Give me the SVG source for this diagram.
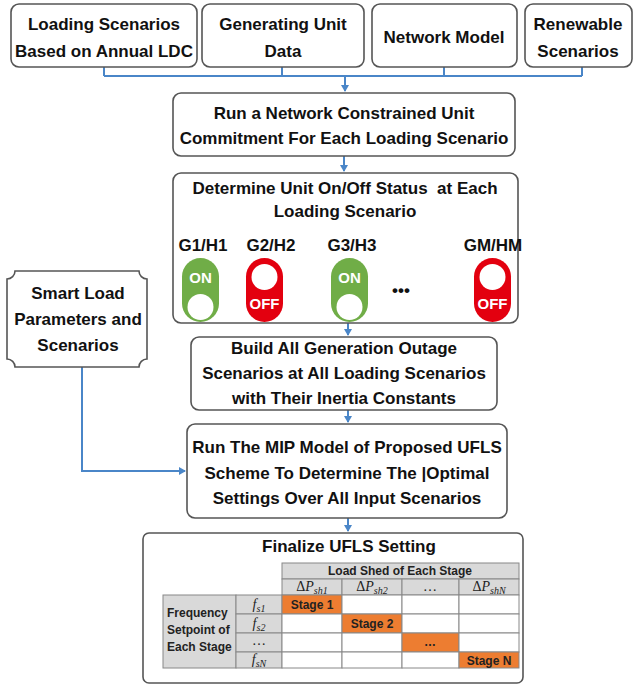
<svg xmlns="http://www.w3.org/2000/svg" width="635" height="689" viewBox="0 0 635 689">
<style>
.box{fill:#fff;stroke:#555;stroke-width:1.6}
.t{font-family:"Liberation Sans",Arial,sans-serif;font-weight:bold;font-size:17px;fill:#111;text-anchor:middle}
.ts{font-family:"Liberation Sans",Arial,sans-serif;font-weight:bold;font-size:12px;fill:#222;text-anchor:middle}
.tl{font-family:"Liberation Sans",Arial,sans-serif;font-weight:bold;font-size:12px;fill:#222;text-anchor:start}
.tw{font-family:"Liberation Sans",Arial,sans-serif;font-weight:bold;font-size:15px;fill:#fff;text-anchor:middle}
.m{font-family:"Liberation Serif","Times New Roman",serif;font-size:14px;fill:#222;text-anchor:middle}
.con{fill:none;stroke:#4A86C8;stroke-width:2}
.g{fill:#D9D9D9;stroke:#888;stroke-width:1}
.w{fill:#fff;stroke:#888;stroke-width:1}
.o{fill:#ED7D31;stroke:#888;stroke-width:1}
</style>
<defs>
<marker id="ah" markerWidth="8" markerHeight="8" refX="6" refY="4" orient="auto" markerUnits="userSpaceOnUse">
<path d="M0,0 L7,4 L0,8 Z" fill="#4A86C8"/>
</marker>
</defs>
<rect width="635" height="689" fill="#fff"/>

<g id="connectors">
<path class="con" d="M104,67 V76 M282,67 V76 M444,67 V76 M582,67 V76 M104,76 H582"/>
<path class="con" d="M345,76 V91" marker-end="url(#ah)"/>
<path class="con" d="M344,156 V171" marker-end="url(#ah)"/>
<path class="con" d="M348,322 V335" marker-end="url(#ah)"/>
<path class="con" d="M348,410 V422" marker-end="url(#ah)"/>
<path class="con" d="M348,518 V531" marker-end="url(#ah)"/>
<path class="con" d="M82,367 V471 H185" marker-end="url(#ah)"/>
</g>

<g id="loading">
<rect class="box" x="11" y="4" width="186" height="63" rx="8"/>
<text class="t" x="104" y="30">Loading Scenarios</text>
<text class="t" x="104" y="57">Based on Annual LDC</text>
</g>
<g id="genunit">
<rect class="box" x="202" y="4" width="162" height="63" rx="8"/>
<text class="t" x="283" y="30">Generating Unit</text>
<text class="t" x="283" y="57">Data</text>
</g>
<g id="network">
<rect class="box" x="372" y="4" width="145" height="63" rx="8"/>
<text class="t" x="444" y="43">Network Model</text>
</g>
<g id="renewable">
<rect class="box" x="525" y="4" width="107" height="63" rx="8"/>
<text class="t" x="578" y="30">Renewable</text>
<text class="t" x="578" y="57">Scenarios</text>
</g>

<g id="runuc">
<rect class="box" x="173" y="93" width="342" height="63" rx="8"/>
<text class="t" x="344" y="119">Run a Network Constrained Unit</text>
<text class="t" x="344" y="144">Commitment For Each Loading Scenario</text>
</g>

<g id="onoff">
<rect class="box" x="173" y="173" width="345" height="150" rx="8"/>
<text class="t" x="345" y="194" style="white-space:pre">Determine Unit On/Off Status  at Each</text>
<text class="t" x="345" y="217">Loading Scenario</text>
<text class="t" x="203" y="251">G1/H1</text>
<text class="t" x="271" y="251">G2/H2</text>
<text class="t" x="352" y="251">G3/H3</text>
<text class="t" x="493" y="251">GM/HM</text>
<rect x="182" y="258" width="37" height="64" rx="18.5" fill="#70AD47"/>
<text class="tw" x="200.5" y="283">ON</text>
<circle cx="200.5" cy="307" r="13" fill="#fff"/>
<rect x="246" y="258" width="37" height="64" rx="18.5" fill="#E3000F"/>
<circle cx="264.5" cy="277" r="13" fill="#fff"/>
<text class="tw" x="264.5" y="309">OFF</text>
<rect x="331" y="258" width="37" height="64" rx="18.5" fill="#70AD47"/>
<text class="tw" x="349.5" y="283">ON</text>
<circle cx="349.5" cy="307" r="13" fill="#fff"/>
<text class="t" x="401" y="296">•••</text>
<rect x="474" y="258" width="37" height="64" rx="18.5" fill="#E3000F"/>
<circle cx="492.5" cy="277" r="13" fill="#fff"/>
<text class="tw" x="492.5" y="309">OFF</text>
</g>

<g id="smartload">
<path class="box" d="M15,271 H139 A8,8 0 0 0 147,279 V359 A8,8 0 0 0 139,367 H15 A8,8 0 0 0 7,359 V279 A8,8 0 0 0 15,271 Z"/>
<text class="t" x="78" y="299">Smart Load</text>
<text class="t" x="78" y="325">Parameters and</text>
<text class="t" x="78" y="351">Scenarios</text>
</g>

<g id="outage">
<rect class="box" x="191" y="337" width="306" height="73" rx="8"/>
<text class="t" x="344" y="354">Build All Generation Outage</text>
<text class="t" x="344" y="379">Scenarios at All Loading Scenarios</text>
<text class="t" x="344" y="404">with Their Inertia Constants</text>
</g>

<g id="mip">
<rect class="box" x="187" y="424" width="320" height="94" rx="8"/>
<text class="t" x="347" y="453">Run The MIP Model of Proposed UFLS</text>
<text class="t" x="347" y="479">Scheme To Determine The |Optimal</text>
<text class="t" x="347" y="504">Settings Over All Input Scenarios</text>
</g>

<g id="finalize">
<rect class="box" x="143" y="533" width="380" height="150" rx="6"/>
<text class="t" x="349" y="552">Finalize UFLS Setting</text>
<rect class="g" x="282" y="563" width="237" height="16"/>
<text class="ts" x="400" y="575">Load Shed of Each Stage</text>
<rect class="g" x="282" y="579" width="60" height="16"/>
<rect class="g" x="342" y="579" width="60" height="16"/>
<rect class="g" x="402" y="579" width="57" height="16"/>
<rect class="g" x="459" y="579" width="60" height="16"/>
<text class="m" x="312" y="591">Δ<tspan font-style="italic">P</tspan><tspan font-style="italic" font-size="10" dy="3">sh1</tspan></text>
<text class="m" x="372" y="591">Δ<tspan font-style="italic">P</tspan><tspan font-style="italic" font-size="10" dy="3">sh2</tspan></text>
<text class="m" x="430" y="591" font-size="10">…</text>
<text class="m" x="489" y="591">Δ<tspan font-style="italic">P</tspan><tspan font-style="italic" font-size="10" dy="3">shN</tspan></text>
<rect class="g" x="163" y="595" width="73" height="73"/>
<text class="tl" x="167" y="617">Frequency</text>
<text class="tl" x="167" y="634">Setpoint of</text>
<text class="tl" x="167" y="651">Each Stage</text>
<rect class="g" x="236" y="595" width="46" height="19"/>
<rect class="g" x="236" y="614" width="46" height="19"/>
<rect class="g" x="236" y="633" width="46" height="19"/>
<rect class="g" x="236" y="652" width="46" height="16"/>
<text class="m" x="259" y="609"><tspan font-style="italic">f</tspan><tspan font-style="italic" font-size="10" dy="3">s1</tspan></text>
<text class="m" x="259" y="628"><tspan font-style="italic">f</tspan><tspan font-style="italic" font-size="10" dy="3">s2</tspan></text>
<text class="m" x="259" y="645" font-size="10">…</text>
<text class="m" x="259" y="664"><tspan font-style="italic">f</tspan><tspan font-style="italic" font-size="10" dy="3">sN</tspan></text>
<rect class="o" x="282" y="595" width="60" height="19"/>
<rect class="w" x="342" y="595" width="60" height="19"/>
<rect class="w" x="402" y="595" width="57" height="19"/>
<rect class="w" x="459" y="595" width="60" height="19"/>
<rect class="w" x="282" y="614" width="60" height="19"/>
<rect class="o" x="342" y="614" width="60" height="19"/>
<rect class="w" x="402" y="614" width="57" height="19"/>
<rect class="w" x="459" y="614" width="60" height="19"/>
<rect class="w" x="282" y="633" width="60" height="19"/>
<rect class="w" x="342" y="633" width="60" height="19"/>
<rect class="o" x="402" y="633" width="57" height="19"/>
<rect class="w" x="459" y="633" width="60" height="19"/>
<rect class="w" x="282" y="652" width="60" height="16"/>
<rect class="w" x="342" y="652" width="60" height="16"/>
<rect class="w" x="402" y="652" width="57" height="16"/>
<rect class="o" x="459" y="652" width="60" height="16"/>
<text class="ts" x="312" y="609" font-size="13">Stage 1</text>
<text class="ts" x="372" y="628" font-size="13">Stage 2</text>
<text class="ts" x="430" y="646" font-size="10">…</text>
<text class="ts" x="489" y="665" font-size="13">Stage N</text>
</g>
</svg>
